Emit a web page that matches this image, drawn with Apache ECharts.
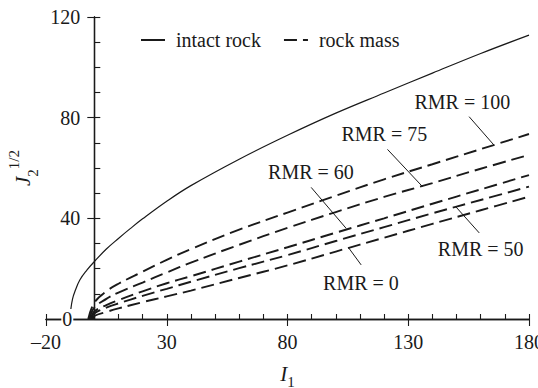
<!DOCTYPE html>
<html>
<head>
<meta charset="utf-8">
<script src="https://cdn.jsdelivr.net/npm/echarts@6/dist/echarts.min.js"></script>
<style>
  html, body { margin: 0; padding: 0; background: #fff; }
  #chart { width: 538px; height: 388px; }
</style>
</head>
<body>
<div id="chart"></div>
<script>
// Failure envelope of intact rock (solid curve)
const intactI1 = [-10, -9.7, -9, -8, -6, -3, 0, 5, 10, 15, 20, 30, 40, 60, 80, 100, 120, 140, 160, 180];
const intactJ = [0, 4, 8, 11, 15.5, 19.5, 22.8, 27.8, 32, 36, 39.8, 46.8, 53, 63.5, 73, 81.8, 89.8, 97.7, 105.5, 112.8];

// Rock-mass envelopes (dashed) for several RMR ratings
const rmrValues = [100, 75, 60, 50, 0];
const massStartI1 = [-2.5, -2, -1.5, -1, -0.5];   // tension cut-off on the I1 axis
const massI1 = [0, 5, 10, 20, 30, 40, 60, 80, 100, 120, 140, 160, 180];
const massJ_rmr100 = [6.5, 11, 14, 18.8, 23.5, 27.8, 35.5, 42.3, 49, 55.5, 61.5, 67.5, 73.5];
const massJ_rmr75 = [4.5, 8, 10.5, 14.5, 18.5, 22.4, 29.5, 36.2, 42.5, 48.5, 54, 59.7, 65.2];
const massJ_rmr60 = [3, 5.5, 7.5, 11, 14.2, 17, 22.8, 28.5, 34.3, 40, 45.8, 51.5, 57.2];
const massJ_rmr50 = [2.2, 4.5, 6.2, 9.2, 12, 14.8, 20.2, 25.4, 31, 36.5, 42, 47.3, 52.6];
const massJ_rmr0 = [1.2, 2.8, 4.2, 6.7, 9, 11.3, 16.3, 21.3, 26.8, 32.3, 37.8, 43.2, 48.6];
const massJ = [massJ_rmr100, massJ_rmr75, massJ_rmr60, massJ_rmr50, massJ_rmr0];

// Axis ticks
const xMajorTicks = [-20, 30, 80, 130, 180];
const yMajorTicks = [0, 40, 80, 120];
const yOuterTicks = [40, 80, 120];

// Curve annotations: label centre, leader start, leader end (data units)
const rmrLabelAt = [[152.4, 86.1], [120.1, 73.4], [89.7, 58.4], [160.0, 28.0], [110.4, 14.5]];
const leaderFrom = [[155.2, 80.4], [121.4, 67.4], [89.8, 52.3], [159.4, 34.2], [110.5, 21.5]];
const leaderTo = [[165.5, 69.1], [135.9, 52.6], [104.3, 36.0], [149.7, 44.6], [105.3, 28.3]];

const FONT = '"Liberation Serif", "Times New Roman", serif';
const INK = '#1a1a1a';

// plot box
const GRID = { left: 46, right: 9, top: 17, bottom: 69 };
const X_MIN = -20, X_MAX = 180;
// the J axis is drawn through I1 = 0
const yAxisShift = -(538 - GRID.left - GRID.right) * (0 - X_MIN) / (X_MAX - X_MIN);

function dash(v) { return v < 0 ? '\u2013' + Math.abs(v) : String(v); }

const series = [{
  name: 'intact rock',
  type: 'line',
  data: intactI1.map((x, i) => [x, intactJ[i]]),
  showSymbol: false,
  symbol: 'none',
  smooth: 0.4,
  lineStyle: { color: INK, width: 1.2 },
  itemStyle: { color: INK },
  animation: false,
  z: 3
}];

rmrValues.forEach((rmr, k) => {
  series.push({
    name: 'rock mass',
    type: 'line',
    data: [[massStartI1[k], 0]].concat(massI1.map((x, i) => [x, massJ[k][i]])),
    showSymbol: false,
    symbol: 'none',
    smooth: 0.4,
    lineStyle: { color: INK, width: 1.9, type: [13, 6] },
    itemStyle: { color: INK },
    animation: false,
    z: 3,
    markLine: {
      silent: true,
      symbol: ['none', 'none'],
      animation: false,
      label: { show: false },
      lineStyle: { color: INK, width: 1, type: 'solid' },
      data: [[{ coord: leaderFrom[k] }, { coord: leaderTo[k] }]]
    },
    markPoint: {
      silent: true,
      animation: false,
      symbol: 'rect',
      symbolSize: 1,
      itemStyle: { color: 'rgba(0,0,0,0)' },
      label: {
        show: true,
        position: 'inside',
        formatter: 'RMR = ' + rmr,
        fontFamily: FONT,
        fontSize: 20,
        color: INK
      },
      data: [{ coord: rmrLabelAt[k] }]
    }
  });
});

const baseX = {
  type: 'value', min: X_MIN, max: X_MAX, interval: 10, position: 'bottom', z: 1,
  splitLine: { show: false }
};
const baseY = {
  type: 'value', min: 0, max: 120, interval: 10, position: 'left', offset: yAxisShift,
  splitLine: { show: false }
};

const option = {
  backgroundColor: '#fff',
  animation: false,
  grid: Object.assign({ containLabel: false, outerBoundsMode: 'none' }, GRID),
  legend: {
    left: 140,
    top: 29,
    padding: 0,
    itemWidth: 24,
    itemHeight: 14,
    itemGap: 22,
    itemStyle: { color: 'rgba(0,0,0,0)', borderWidth: 0, opacity: 0 },
    data: ['intact rock', 'rock mass'],
    textStyle: { fontFamily: FONT, fontSize: 20, color: INK, lineHeight: 22, padding: [0, 0, 0, 6] }
  },
  xAxis: [
    Object.assign({}, baseX, {
      axisLine: { show: true, onZero: false, lineStyle: { color: INK, width: 1.3 } },
      axisTick: { show: true, inside: true, length: 5, lineStyle: { color: INK, width: 1.1 } },
      axisLabel: { show: false },
      name: '{i|I}{s|1}',
      nameLocation: 'middle',
      nameGap: 40,
      nameTextStyle: {
        rich: {
          i: { fontFamily: FONT, fontStyle: 'italic', fontSize: 21, color: INK, lineHeight: 30 },
          s: { fontFamily: FONT, fontSize: 15, color: INK, lineHeight: 18, verticalAlign: 'bottom' }
        }
      }
    }),
    Object.assign({}, baseX, {
      axisLine: { show: true, onZero: false, lineStyle: { color: INK, width: 1.3 } },
      axisTick: { show: true, inside: false, length: 7, customValues: xMajorTicks, lineStyle: { color: INK, width: 1.1 } },
      axisLabel: {
        show: true, customValues: xMajorTicks, margin: 13, formatter: dash,
        fontFamily: FONT, fontSize: 20, color: INK
      }
    })
  ],
  yAxis: [
    Object.assign({}, baseY, {
      axisLine: { show: true, onZero: false, lineStyle: { color: INK, width: 1.3 } },
      axisTick: { show: true, inside: true, length: 6, lineStyle: { color: INK, width: 1.1 } },
      axisLabel: { show: false },
      name: '{j|J}{s|2}{p|1/2}',
      nameLocation: 'middle',
      nameGap: 54,
      nameTextStyle: {
        rich: {
          j: { fontFamily: FONT, fontStyle: 'italic', fontSize: 21, color: INK, lineHeight: 34 },
          s: { fontFamily: FONT, fontSize: 15, color: INK, lineHeight: 20, verticalAlign: 'bottom' },
          p: { fontFamily: FONT, fontSize: 15, color: INK, lineHeight: 20, verticalAlign: 'top' }
        }
      }
    }),
    Object.assign({}, baseY, {
      z: 4,
      axisLine: { show: true, onZero: false, lineStyle: { color: INK, width: 1.3 } },
      axisTick: { show: true, inside: false, length: 7, customValues: yOuterTicks, lineStyle: { color: INK, width: 1.1 } },
      axisLabel: {
        show: true, customValues: yMajorTicks, margin: 14,
        fontFamily: FONT, fontSize: 20, color: INK,
        formatter: v => v === 0 ? '{z|0}{g| }' : String(v),
        rich: {
          z: { fontFamily: FONT, fontSize: 20, color: INK, backgroundColor: '#fff', padding: [0, 1, 0, 1] },
          g: { fontSize: 20, width: 7 }
        }
      }
    })
  ],
  series: series
};

const chart = echarts.init(document.getElementById('chart'), null, { renderer: 'svg' });
chart.setOption(option);
</script>
</body>
</html>
